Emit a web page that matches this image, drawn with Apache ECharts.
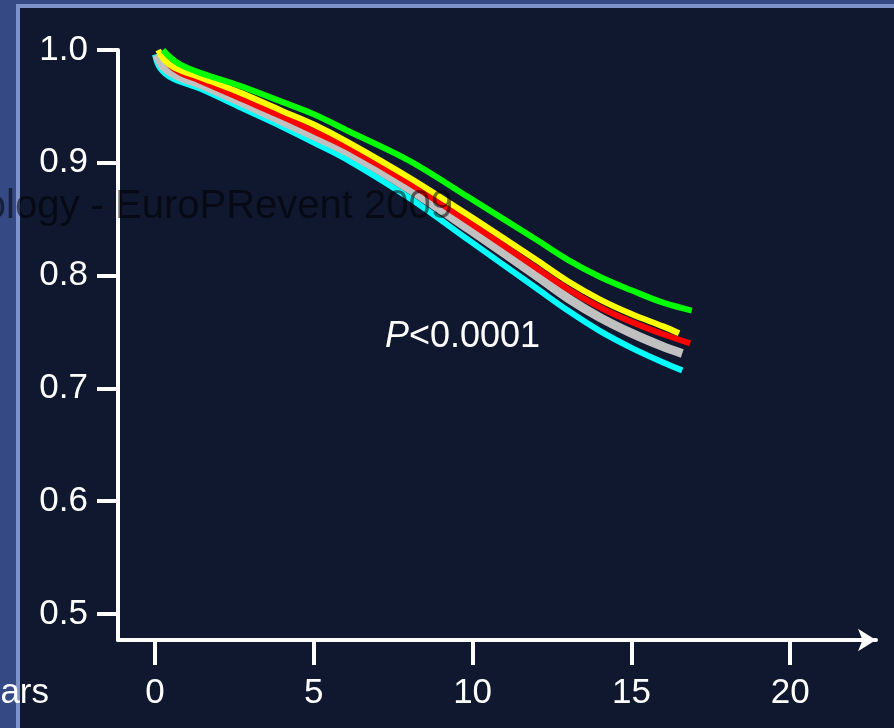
<!DOCTYPE html>
<html>
<head>
<meta charset="utf-8">
<script src="https://cdn.jsdelivr.net/npm/echarts@6/dist/echarts.min.js"></script>
<style>
  html, body { margin: 0; padding: 0; background: #354a85; }
  #container { width: 894px; height: 728px; }
</style>
</head>
<body>
<div id="container"></div>
<script>
var myChart = echarts.init(document.getElementById("container"));

// survival curves, years vs proportion
var greenYears  = [0.25, 0.5, 0.8, 1.4, 2.7, 4, 5, 6.1, 8, 9.9, 12, 13, 14, 15, 16, 16.9];
var greenVals   = [1.0, 0.993, 0.987, 0.980, 0.968, 0.954, 0.943, 0.928, 0.902, 0.869, 0.832, 0.814, 0.799, 0.787, 0.776, 0.769];
var yellowYears = [0.1, 0.3, 0.63, 1.4, 2.7, 4, 5, 6.1, 8, 9.9, 12, 13, 14, 15, 16, 16.5];
var yellowVals  = [1.0, 0.991, 0.984, 0.976, 0.962, 0.946, 0.934, 0.918, 0.887, 0.853, 0.814, 0.795, 0.779, 0.766, 0.755, 0.749];
var redYears    = [0.22, 0.41, 0.79, 1.4, 2.7, 4, 5, 6.1, 8, 9.9, 12, 13, 14, 15, 16, 16.85];
var redVals     = [0.998, 0.988, 0.980, 0.973, 0.957, 0.941, 0.928, 0.913, 0.882, 0.847, 0.807, 0.788, 0.772, 0.759, 0.748, 0.740];
var grayYears   = [0.06, 0.28, 0.72, 1.4, 2.7, 4, 5, 6.1, 8, 9.9, 12, 13, 14, 15, 16, 16.6];
var grayVals    = [0.996, 0.985, 0.977, 0.970, 0.954, 0.937, 0.924, 0.909, 0.877, 0.841, 0.800, 0.780, 0.763, 0.749, 0.737, 0.731];
var cyanYears   = [0, 0.16, 0.54, 1.4, 2.7, 4, 5, 6.1, 8, 9.9, 12, 13, 14, 15, 16, 16.6];
var cyanVals    = [0.996, 0.984, 0.975, 0.966, 0.949, 0.932, 0.918, 0.902, 0.869, 0.831, 0.789, 0.769, 0.751, 0.736, 0.723, 0.716];

var xTicks = [0, 5, 10, 15, 20];
var yTicks = [0.5, 0.6, 0.7, 0.8, 0.9, 1.0];

function pairs(xs, ys) {
    return xs.map(function (x, i) { return [x, ys[i]]; });
}

function curve(xs, ys, color, width) {
    return {
        type: "line",
        data: pairs(xs, ys),
        smooth: 0.35,
        showSymbol: false,
        silent: true,
        lineStyle: { color: color, width: width, cap: "butt" }
    };
}

var font = "Liberation Sans, Arial, sans-serif";

myChart.setOption({
    backgroundColor: "#354a85",
    animation: false,
    grid: { left: 118, top: 50, width: 758, bottom: 88 },
    xAxis: {
        type: "value",
        min: -1.165,
        max: 22.7,
        splitLine: { show: false },
        axisLine: {
            onZero: false,
            symbol: ["none", "arrow"],
            symbolSize: [17, 18],
            lineStyle: { color: "#ffffff", width: 4 }
        },
        axisTick: {
            customValues: xTicks,
            length: 25,
            lineStyle: { color: "#ffffff", width: 4 }
        },
        axisLabel: {
            customValues: xTicks,
            margin: 36,
            color: "#ffffff",
            fontSize: 35,
            fontFamily: font
        }
    },
    yAxis: {
        type: "value",
        min: 0.477,
        max: 1.0,
        splitLine: { show: false },
        axisLine: { onZero: false, lineStyle: { color: "#ffffff", width: 4 } },
        axisTick: {
            customValues: yTicks,
            length: 21,
            lineStyle: { color: "#ffffff", width: 4 }
        },
        axisLabel: {
            customValues: yTicks,
            margin: 30,
            color: "#ffffff",
            fontSize: 35,
            fontFamily: font,
            formatter: function (v) { return v.toFixed(1); }
        }
    },
    graphic: [
        { type: "rect", z: -20, shape: { x: 16, y: 4, width: 900, height: 740 }, style: { fill: "#7e92cc" } },
        { type: "rect", z: -19, shape: { x: 20, y: 8, width: 900, height: 740 }, style: { fill: "#10182f" } },
        {
            type: "text", z: 50, x: 385, y: 337,
            style: {
                text: "{i|P}<0.0001",
                fill: "#ffffff",
                font: "36px " + font,
                verticalAlign: "middle",
                rich: { i: { fontStyle: "italic", fontSize: 36, fontFamily: font, fill: "#ffffff" } }
            }
        },
        {
            type: "text", z: 50, x: 49, y: 693,
            style: { text: "Years", fill: "#ffffff", font: "35px " + font, align: "right", verticalAlign: "middle" }
        },
        {
            type: "text", z: 60, x: 453, y: 207,
            style: {
                text: "European Society of Cardiology - EuroPRevent 2009",
                fill: "rgba(0,0,0,0.55)",
                font: "40px " + font,
                align: "right",
                verticalAlign: "middle"
            }
        }
    ],
    series: [
        curve(cyanYears, cyanVals, "#00ffff", 6),
        curve(grayYears, grayVals, "#c0c0c0", 9),
        curve(redYears, redVals, "#ff0000", 6),
        curve(yellowYears, yellowVals, "#ffff00", 6),
        curve(greenYears, greenVals, "#00ff00", 6)
    ]
});
</script>
</body>
</html>
